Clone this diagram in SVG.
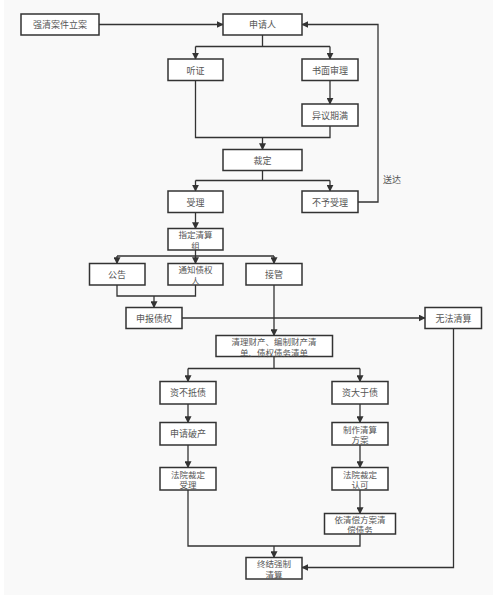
<svg xmlns="http://www.w3.org/2000/svg" width="493" height="595" viewBox="0 0 493 595">
<defs>
<marker id="ah" viewBox="0 0 10 10" refX="9" refY="5" markerWidth="7" markerHeight="7" markerUnits="userSpaceOnUse" orient="auto">
<path d="M0,0 L10,5 L0,10 z" fill="#333"/>
</marker>
<style>
.b{fill:#fff;stroke:#333;stroke-width:1.5}
.t{font-family:"Noto Sans CJK SC","Noto Sans CJK JP",sans-serif;font-size:9px;fill:#555;text-anchor:middle;dominant-baseline:central}
.m{font-size:8.5px}
.c{fill:none;stroke:#333;stroke-width:1.3}
.a{marker-end:url(#ah)}
</style>
</defs>
<rect x="0" y="0" width="493" height="595" fill="#fff"/>
<rect x="4" y="0" width="489" height="595" fill="#f9f9f9"/>
<g id="connectors">
<path class="c a" d="M99,24.5 H223"/>
<path class="c" d="M262.5,35 V46.5 M195.5,46.5 H330"/>
<path class="c a" d="M195.5,46.5 V59"/>
<path class="c a" d="M330,46.5 V59"/>
<path class="c a" d="M330,80.5 V104"/>
<path class="c" d="M195.5,80.5 V137.5 H330 V126"/>
<path class="c a" d="M262.5,137.5 V149.5"/>
<path class="c" d="M262.5,170.5 V180.5 M195.5,180.5 H330"/>
<path class="c a" d="M195.5,180.5 V191"/>
<path class="c a" d="M330,180.5 V191"/>
<path class="c a" d="M358,202 H378 V24.5 H302"/>
<path class="c a" d="M195.5,212.5 V228.5"/>
<path class="c" d="M195.5,250 V256 M117,256 H274"/>
<path class="c a" d="M117,256 V263.5"/>
<path class="c a" d="M195.5,256 V263.5"/>
<path class="c a" d="M274,256 V263.5"/>
<path class="c" d="M117,285 V296 H195.5 V285"/>
<path class="c a" d="M154,296 V307.5"/>
<path class="c a" d="M182,318 H425"/>
<path class="c a" d="M274,285 V335.5"/>
<path class="c" d="M274,356.5 V368.5 M188,368.5 H360"/>
<path class="c a" d="M188,368.5 V381.5"/>
<path class="c a" d="M360,368.5 V381.5"/>
<path class="c a" d="M188,404 V422.5"/>
<path class="c a" d="M360,404 V422.5"/>
<path class="c a" d="M188,445 V467.5"/>
<path class="c a" d="M360,445 V467.5"/>
<path class="c a" d="M360,490 V513.5"/>
<path class="c" d="M188,490 V546 H360 V534"/>
<path class="c a" d="M274,546 V557.5"/>
<path class="c a" d="M453.5,328.5 V567.5 H302"/>
</g>
<text class="t" x="392" y="179">送达</text>
<g id="n1"><rect class="b" x="21" y="14" width="78" height="21"/><text class="t" x="60" y="24.5">强清案件立案</text></g>
<g id="n2"><rect class="b" x="223" y="14" width="79" height="21"/><text class="t" x="262.5" y="24.5">申请人</text></g>
<g id="n3"><rect class="b" x="168" y="59" width="55" height="21.5"/><text class="t" x="195.5" y="70">听证</text></g>
<g id="n4"><rect class="b" x="302" y="59" width="56" height="21.5"/><text class="t" x="330" y="70">书面审理</text></g>
<g id="n5"><rect class="b" x="302" y="104" width="56" height="22"/><text class="t" x="330" y="115">异议期满</text></g>
<g id="n6"><rect class="b" x="223" y="149.5" width="79" height="21"/><text class="t" x="262.5" y="160">裁定</text></g>
<g id="n7"><rect class="b" x="168" y="191" width="55" height="21.5"/><text class="t" x="195.5" y="202">受理</text></g>
<g id="n8"><rect class="b" x="302" y="191" width="56" height="21.5"/><text class="t" x="330" y="202">不予受理</text></g>
<g id="n9"><rect class="b" x="168" y="228.5" width="55" height="21.5"/><text class="t m" x="195.5" y="234"><tspan x="195.5">指定清算</tspan><tspan x="195.5" dy="10.5">组</tspan></text></g>
<g id="n10"><rect class="b" x="89.5" y="263.5" width="55.5" height="21.5"/><text class="t" x="117" y="274">公告</text></g>
<g id="n11"><rect class="b" x="168" y="263.5" width="55" height="21.5"/><text class="t m" x="195.5" y="269"><tspan x="195.5">通知债权</tspan><tspan x="195.5" dy="10.5">人</tspan></text></g>
<g id="n12"><rect class="b" x="246" y="263.5" width="56" height="21.5"/><text class="t" x="274" y="274">接管</text></g>
<g id="n13"><rect class="b" x="126" y="307.5" width="56" height="21"/><text class="t" x="154" y="318">申报债权</text></g>
<g id="n14"><rect class="b" x="425" y="307.5" width="56.5" height="21"/><text class="t" x="453.5" y="318">无法清算</text></g>
<g id="n15"><rect class="b" x="216" y="335.5" width="116.5" height="21"/><text class="t m" x="274" y="341"><tspan x="274">清理财产、编制财产清</tspan><tspan x="274" dy="10.5">单、债权债务清单</tspan></text></g>
<g id="n16"><rect class="b" x="160" y="381.5" width="56" height="22.5"/><text class="t" x="188" y="392.5">资不抵债</text></g>
<g id="n17"><rect class="b" x="332" y="381.5" width="56" height="22.5"/><text class="t" x="360" y="392.5">资大于债</text></g>
<g id="n18"><rect class="b" x="160" y="422.5" width="56" height="22.5"/><text class="t" x="188" y="433.5">申请破产</text></g>
<g id="n19"><rect class="b" x="332" y="422.5" width="56" height="22.5"/><text class="t m" x="360" y="428.5"><tspan x="360">制作清算</tspan><tspan x="360" dy="10.5">方案</tspan></text></g>
<g id="n20"><rect class="b" x="160" y="467.5" width="56" height="22.5"/><text class="t m" x="188" y="473.5"><tspan x="188">法院裁定</tspan><tspan x="188" dy="10.5">受理</tspan></text></g>
<g id="n21"><rect class="b" x="332" y="467.5" width="56" height="22.5"/><text class="t m" x="360" y="473.5"><tspan x="360">法院裁定</tspan><tspan x="360" dy="10.5">认可</tspan></text></g>
<g id="n22"><rect class="b" x="324.5" y="513.5" width="71" height="20.5"/><text class="t m" x="360" y="518.5"><tspan x="360">依清偿方案清</tspan><tspan x="360" dy="10.5">偿债务</tspan></text></g>
<g id="n23"><rect class="b" x="246" y="557.5" width="56" height="21.5"/><text class="t m" x="274" y="563"><tspan x="274">终结强制</tspan><tspan x="274" dy="10.5">清算</tspan></text></g>
</svg>
